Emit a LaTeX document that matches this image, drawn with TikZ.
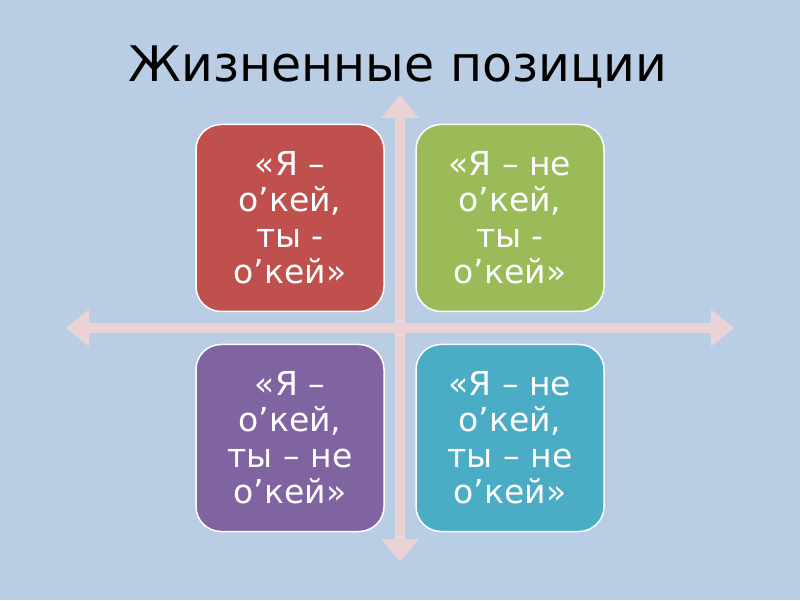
\documentclass[tikz,border=0pt]{standalone}
\usepackage{fontspec}
\setmainfont{DejaVu Sans}
\usepackage{tikz}
\usetikzlibrary{arrows.meta,positioning}
\definecolor{slideblue}{RGB}{185,205,229}
\definecolor{boxred}{RGB}{192,80,77}
\definecolor{boxgreen}{RGB}{155,187,89}
\definecolor{boxviolet}{RGB}{128,100,162}
\definecolor{boxaqua}{RGB}{75,172,198}
\definecolor{axispink}{RGB}{234,210,213}

\begin{document}
\begin{tikzpicture}[node distance=220pt,
  axis line/.style={draw=axispink,line width=10pt,{Triangle[width=36pt,length=23pt]}-{Triangle[width=36pt,length=23pt]}},
  quad node/.style={rounded corners=25pt,draw=white,line width=1.5pt,text=white,align=center,minimum width=188pt,minimum height=187pt,inner sep=0pt,font=\fontsize{33}{36}\selectfont}]

  \fill[slideblue] (0,0) rectangle (800pt,600pt);
  \useasboundingbox (0,0) rectangle (800pt,600pt);

  \node[anchor=base,font=\fontsize{49}{58}\selectfont] (title) at (398pt,518pt) {Жизненные позиции};

  \coordinate (top) at (400pt,505pt);
  \coordinate (bottom) at (400pt,38pt);
  \coordinate (left) at (66pt,272pt);
  \coordinate (right) at (734pt,272pt);
  \draw[axis line] (bottom) -- (top);
  \draw[axis line] (left) -- (right);

  \node[quad node,fill=boxred] (1) at (290pt,382pt) {«Я –\\о’кей,\\ты -\\о’кей»};
  \node[quad node,fill=boxgreen] (2) [right of=1] {«Я – не\\о’кей,\\ты -\\о’кей»};
  \node[quad node,fill=boxviolet] (3) [below of=1] {«Я –\\о’кей,\\ты – не\\о’кей»};
  \node[quad node,fill=boxaqua] (4) [right of=3] {«Я – не\\о’кей,\\ты – не\\о’кей»};
\end{tikzpicture}
\end{document}
